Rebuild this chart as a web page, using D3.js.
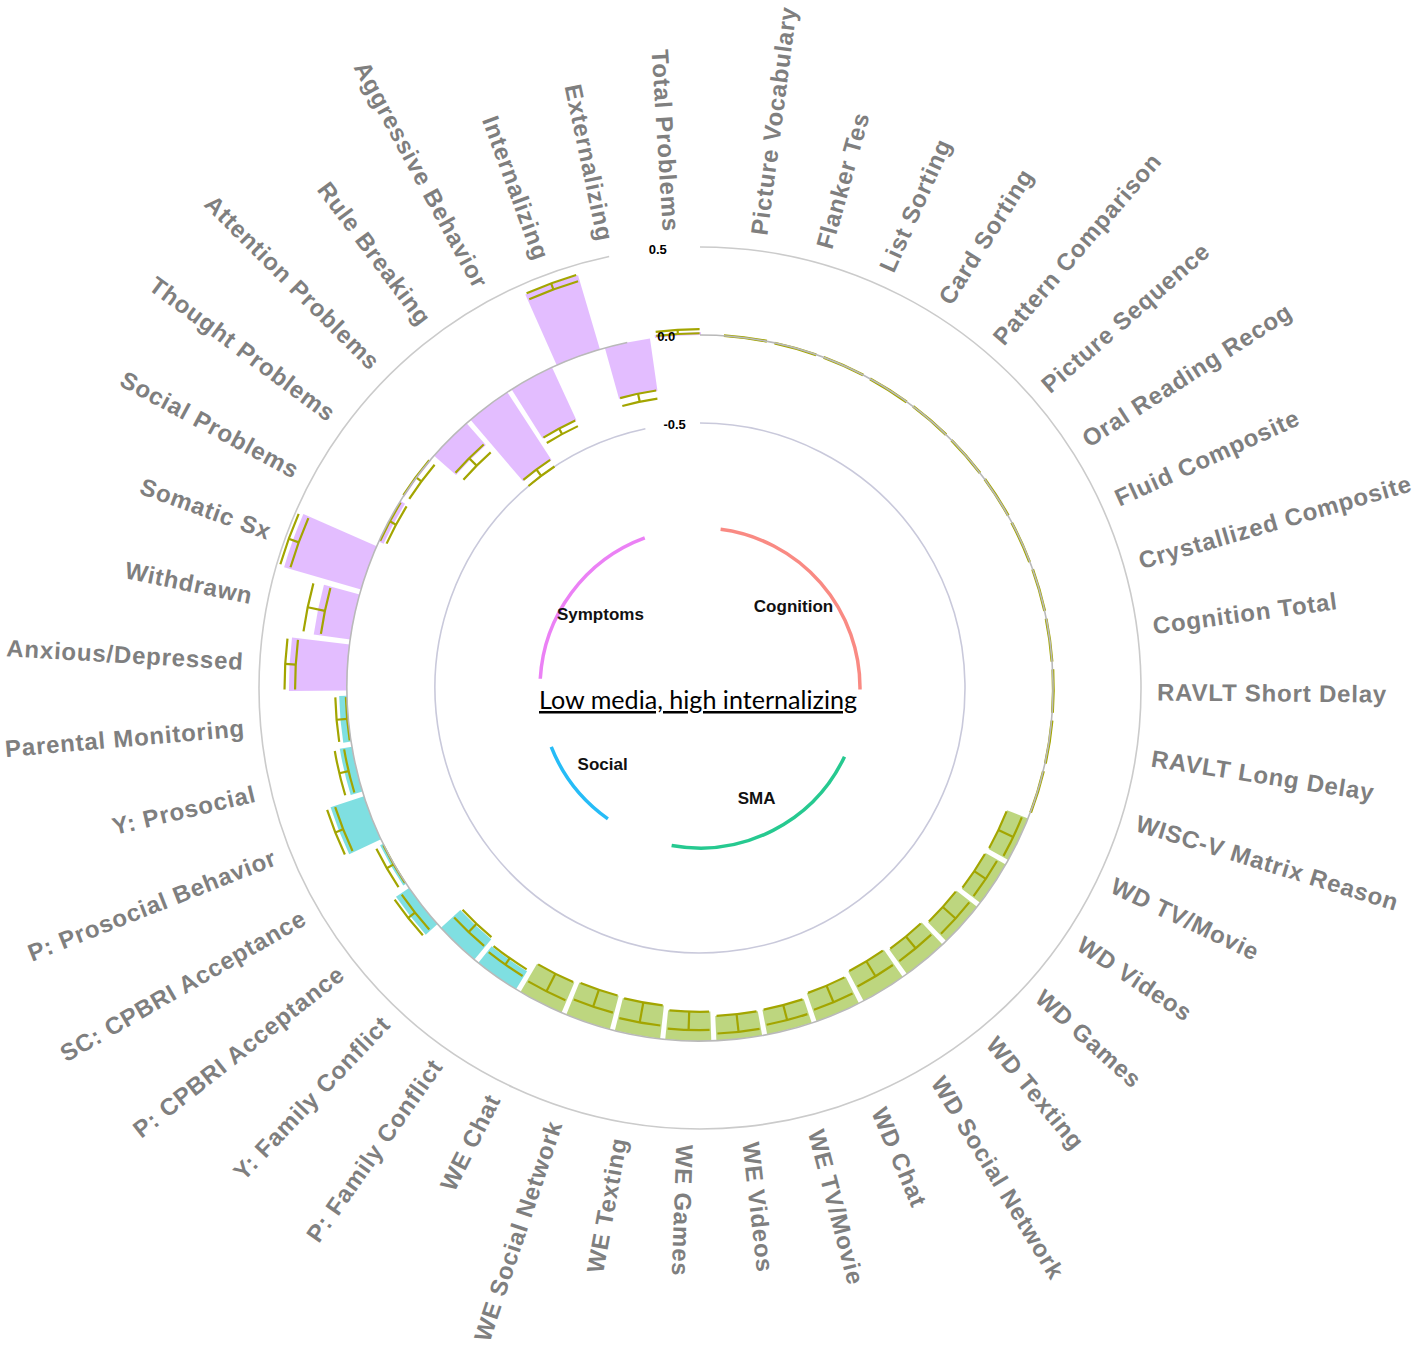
<!DOCTYPE html>
<html><head><meta charset="utf-8">
<script src="https://cdn.jsdelivr.net/npm/d3@7"></script>
<style>body{margin:0;background:#fff}</style>
</head><body>
<svg id="chart" width="1418" height="1347"></svg>
<script>
// ---------------- data ----------------
const categories = [
  "Picture Vocabulary","Flanker Tes","List Sorting","Card Sorting","Pattern Comparison",
  "Picture Sequence","Oral Reading Recog","Fluid Composite","Crystallized Composite",
  "Cognition Total","RAVLT Short Delay","RAVLT Long Delay","WISC-V Matrix Reason",
  "WD TV/Movie","WD Videos","WD Games","WD Texting","WD Social Network","WD Chat",
  "WE TV/Movie","WE Videos","WE Games","WE Texting","WE Social Network","WE Chat",
  "P: Family Conflict","Y: Family Conflict","P: CPBRI Acceptance","SC: CPBRI Acceptance",
  "P: Prosocial Behavior","Y: Prosocial","Parental Monitoring",
  "Anxious/Depressed","Withdrawn","Somatic Sx","Social Problems","Thought Problems",
  "Attention Problems","Rule Breaking","Aggressive Behavior","Internalizing",
  "Externalizing","Total Problems"
];
const groupOf = [
  "Cognition","Cognition","Cognition","Cognition","Cognition","Cognition","Cognition",
  "Cognition","Cognition","Cognition","Cognition","Cognition","Cognition",
  "SMA","SMA","SMA","SMA","SMA","SMA","SMA","SMA","SMA","SMA","SMA","SMA",
  "Social","Social","Social","Social","Social","Social","Social",
  "Symptoms","Symptoms","Symptoms","Symptoms","Symptoms","Symptoms","Symptoms",
  "Symptoms","Symptoms","Symptoms","Symptoms"
];
const values = [
  0.001,-0.001,0.000,-0.001,0.001,0.000,0.001,-0.001,0.001,0.000,0.002,0.003,0.002,
  -0.128,-0.132,-0.148,-0.172,-0.188,-0.168,-0.143,-0.140,-0.166,-0.190,-0.197,-0.186,
  -0.120,-0.150,0.090,0.020,0.200,0.070,0.045,
  0.330,0.210,0.455,-0.030,-0.005,-0.165,-0.460,-0.330,0.440,-0.300,0.015
];
const ciLow = [
  -0.001,-0.003,-0.002,-0.003,-0.001,-0.002,-0.001,-0.003,-0.001,-0.002,0.000,0.001,0.000,
  -0.128,-0.132,-0.148,-0.172,-0.188,-0.168,-0.143,-0.140,-0.166,-0.190,-0.197,-0.186,
  -0.128,-0.160,0.056,0.003,0.175,0.046,0.007,
  0.295,0.170,0.420,-0.045,-0.035,-0.215,-0.500,-0.364,0.407,-0.344,0.010
];
const ciHigh = [
  0.003,0.001,0.002,0.001,0.003,0.002,0.003,0.001,0.003,0.002,0.004,0.005,0.004,
  -0.035,-0.053,-0.050,-0.085,-0.088,-0.066,-0.055,-0.040,-0.062,-0.075,-0.096,-0.074,
  -0.084,-0.095,0.105,0.047,0.223,0.100,0.067,
  0.355,0.270,0.480,-0.005,0.005,-0.155,-0.455,-0.328,0.444,-0.297,0.033
];
const groupNames = ["Cognition","SMA","Social","Symptoms"];
const barColors = ["rgba(248,118,109,0.5)","rgba(124,174,0,0.5)","rgba(0,191,196,0.5)","rgba(199,124,255,0.5)"];
const groupArcColors = ["#F8766D","#00BF7D","#00B0F6","#E76BF3"];
const axisTicks = [0.5, 0.0, -0.5];
const axisTickLabels = ["0.5","0.0","-0.5"];
const ringColors = ["#cbcbcb","#b9b9b9","#c9c9db"];
const title = "Low media, high internalizing";

// ---------------- layout ----------------
const cx = 700, cy = 688;
const DEG = Math.PI / 180;
const step = 8.31 * DEG, firstCenter = 7.4 * DEG;
const n = categories.length;

const x = d3.scaleBand()
  .domain(categories)
  .range([firstCenter - step / 2, firstCenter - step / 2 + n * step])
  .paddingInner(0.1).paddingOuter(0.05);
const y = d3.scaleLinear().domain([-2, 0.5]).range([1, 441]);
const barColor = d3.scaleOrdinal().domain(groupNames).range(barColors);
const arcColor = d3.scaleOrdinal().domain(groupNames).range(groupArcColors);

const bw = x.bandwidth();
const mid = c => x(c) + bw / 2;
const polar = (r, a) => [r * Math.sin(a), -r * Math.cos(a)];
function arcPath(r, a0, a1) {
  const p = d3.path();
  const [sx, sy] = polar(r, a0);
  p.moveTo(sx, sy);
  p.arc(0, 0, r, a0 - Math.PI / 2, a1 - Math.PI / 2, a1 < a0);
  return p.toString();
}

const rows = categories.map((c, i) => ({c, g: groupOf[i], v: values[i], lo: ciLow[i], hi: ciHigh[i], i}));

const svg = d3.select("#chart");
const g = svg.append("g").attr("transform", `translate(${cx},${cy})`);
const ringLayer = g.append("g");
const barLayer = g.append("g");
const ebLayer = g.append("g").attr("fill", "none").attr("stroke", "#A3A500").attr("stroke-width", 2.2);
const ringTop = g.append("g");

// bars
const barArc = d3.arc()
  .innerRadius(d => y(Math.min(0, d.v)))
  .outerRadius(d => y(Math.max(0, d.v)))
  .startAngle(d => x(d.c))
  .endAngle(d => x(d.c) + bw);
barLayer.selectAll("path").data(rows).join("path")
  .attr("d", barArc)
  .attr("fill", d => barColor(d.g));

// error bars
const capHalf = bw * 0.47;
rows.forEach(d => {
  const a = mid(d.c);
  [d.lo, d.hi].forEach(val => {
    ebLayer.append("path").attr("d", arcPath(y(val), a - capHalf, a + capHalf));
  });
  const p0 = polar(y(d.lo), a), p1 = polar(y(d.hi), a);
  ebLayer.append("line").attr("x1", p0[0]).attr("y1", p0[1]).attr("x2", p1[0]).attr("y2", p1[1]);
});

// rings (the zero ring sits on top of the bars, the others underneath)
const ringEnd = mid(categories[n - 2]);
axisTicks.forEach((t, k) => {
  (t === 0 ? ringTop : ringLayer).append("path")
    .attr("d", arcPath(y(t), 0, ringEnd))
    .attr("fill", "none")
    .attr("stroke", ringColors[k])
    .attr("stroke-width", 1.6);
});

// category labels
const labelR = 457;
g.append("g").selectAll("text").data(rows).join("text")
  .attr("transform", d => {
    const deg = mid(d.c) / DEG;
    const flip = deg > 185;
    return `rotate(${deg - 90}) translate(${labelR},0)` + (flip ? " rotate(180)" : "");
  })
  .attr("text-anchor", d => (mid(d.c) / DEG > 185 ? "end" : "start"))
  .attr("dominant-baseline", "central")
  .attr("font-family", "'Liberation Sans', Arial, sans-serif")
  .attr("font-weight", "bold")
  .attr("font-size", 24)
  .attr("letter-spacing", 0.8)
  .attr("fill", "#7f7f7f")
  .text(d => d.c);

// axis tick labels
const tickAngle = -5.5 * DEG;
g.append("g").selectAll("text").data(axisTicks).join("text")
  .attr("x", t => polar(y(t), tickAngle)[0])
  .attr("y", t => polar(y(t), tickAngle)[1])
  .attr("text-anchor", "middle")
  .attr("dominant-baseline", "central")
  .attr("font-family", "'Liberation Sans', Arial, sans-serif")
  .attr("font-weight", "bold")
  .attr("font-size", 13)
  .attr("fill", "#000")
  .text((t, k) => axisTickLabels[k]);

// group arcs & labels
const groupR = 160, groupLabelR = 124;
groupNames.forEach(name => {
  const idx = rows.filter(d => d.g === name).map(d => d.i);
  const a0 = mid(categories[d3.min(idx)]);
  const a1 = mid(categories[d3.max(idx) - 2]);
  g.append("path").attr("d", arcPath(groupR, a0, a1))
    .attr("fill", "none").attr("stroke", arcColor(name))
    .attr("stroke-opacity", 0.85).attr("stroke-width", 3.5);
  const am = (a0 + a1) / 2;
  const p = polar(groupLabelR, am);
  g.append("text").attr("x", p[0]).attr("y", p[1])
    .attr("text-anchor", "middle").attr("dominant-baseline", "central")
    .attr("font-family", "'Liberation Sans', Arial, sans-serif")
    .attr("font-weight", "bold").attr("font-size", 17).attr("fill", "#111")
    .text(name);
});

// title
svg.append("text")
  .attr("x", 698).attr("y", 709)
  .attr("text-anchor", "middle")
  .attr("font-family", "Lato, 'Open Sans', sans-serif")
  .attr("font-size", 25)
  .attr("textLength", 318).attr("lengthAdjust", "spacingAndGlyphs")
  .attr("text-decoration", "underline")
  .attr("fill", "#000")
  .text(title);
</script>
</body></html>
